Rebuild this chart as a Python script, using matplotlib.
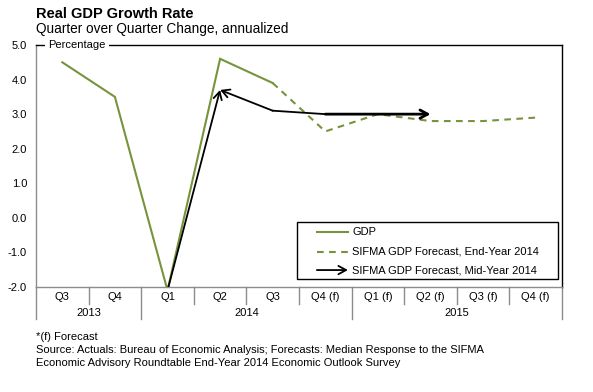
import matplotlib
matplotlib.use("Agg")
import matplotlib.pyplot as plt
from matplotlib.patches import Rectangle

plt.rcParams["font.family"] = ["Liberation Sans", "DejaVu Sans"]

# Data
quarters = ["Q3", "Q4", "Q1", "Q2", "Q3", "Q4 (f)", "Q1 (f)", "Q2 (f)", "Q3 (f)", "Q4 (f)"]
years = ["2013", "2014", "2015"]
year_counts = [2, 4, 4]
gdp_actual = [4.5, 3.5, -2.1, 4.6, 3.9]            # Q3 2013 .. Q3 2014
gdp_end_year = [3.9, 2.5, 3.0, 2.8, 2.8, 2.9]      # Q3 2014 .. Q4 2015
mid_year = [-2.1, 3.7, 3.1, 3.0, 3.0, 3.0]         # Q1 2014 .. Q2 2015
legend_labels = ["GDP", "SIFMA GDP Forecast, End-Year 2014", "SIFMA GDP Forecast, Mid-Year 2014"]

green = "#77933C"
grey = "#8C8C8C"

fig = plt.figure(figsize=(5.93, 3.92), dpi=100)
ax = fig.add_axes([36/593, 1-287/392, 526/593, 242/392])

x_act = list(range(len(gdp_actual)))
x_end = list(range(4, 4 + len(gdp_end_year)))
x_mid = list(range(2, 2 + len(mid_year)))

ax.plot(x_act, gdp_actual, color=green, lw=1.5, solid_joinstyle="miter")
ax.plot(x_end, gdp_end_year, color=green, lw=1.5, dashes=(3.2, 2.6))

# mid-year forecast drawn as arrows
def arrow(i, j, lw):
    a = ax.annotate("", xy=(x_mid[j], mid_year[j]), xytext=(x_mid[i], mid_year[i]),
                    arrowprops=dict(arrowstyle="->,head_length=0.55,head_width=0.3",
                                    color="black", lw=lw, shrinkA=0, shrinkB=0,
                                    mutation_scale=10))
    a.arrow_patch.set_clip_box(ax.bbox)
    a.arrow_patch.set_clip_on(True)

arrow(0, 1, 1.3)
arrow(2, 1, 1.3)
ax.plot(x_mid[2:4], mid_year[2:4], color="black", lw=1.3)
arrow(3, 5, 2.0)

ax.set_xlim(-0.5, len(quarters) - 0.5)
ax.set_ylim(-2.0, 5.0)
ax.set_yticks([-2, -1, 0, 1, 2, 3, 4, 5])
ax.set_yticklabels([f"{v:.1f}" for v in ax.get_yticks()], fontsize=8)
ax.tick_params(axis="y", length=0, pad=6.5)
ax.set_xticks([])

for s in ["top", "right"]:
    ax.spines[s].set_color("black")
    ax.spines[s].set_linewidth(1.0)
for s in ["left", "bottom"]:
    ax.spines[s].set_color(grey)
    ax.spines[s].set_linewidth(1.0)

ax.text(0.023, 1.0, "Percentage", transform=ax.transAxes, fontsize=8, va="center", ha="left",
        bbox=dict(fc="white", ec="none", pad=2.5))

# category table below the axis
tr = ax.get_xaxis_transform()
for i, q in enumerate(quarters):
    ax.text(i, -0.041, q, transform=tr, ha="center", va="center", fontsize=8)
bounds = [-0.5]
for c in year_counts:
    bounds.append(bounds[-1] + c)
for k in range(len(quarters) + 1):
    xb = k - 0.5
    low = -0.132 if xb in bounds else -0.07
    ax.plot([xb, xb], [0, low], transform=tr, color=grey, lw=1.0, clip_on=False)
for k, yr in enumerate(years):
    ax.text((bounds[k] + bounds[k+1]) / 2, -0.107, yr, transform=tr, ha="center", va="center", fontsize=8)

# legend drawn by hand
ta = ax.transAxes
ax.add_patch(Rectangle((0.496, 0.033), 0.496, 0.236, transform=ta, fill=True, fc="white",
                       ec="black", lw=1.0, zorder=5))
ys = [0.227, 0.145, 0.070]
ax.plot([0.534, 0.593], [ys[0]] * 2, transform=ta, color=green, lw=1.5, zorder=6)
ax.plot([0.534, 0.593], [ys[1]] * 2, transform=ta, color=green, lw=1.5, dashes=(3.2, 2.6), zorder=6)
ax.annotate("", xy=(0.593, ys[2]), xytext=(0.534, ys[2]), xycoords=ta, zorder=6,
            arrowprops=dict(arrowstyle="->,head_length=0.55,head_width=0.3", color="black",
                            lw=1.3, shrinkA=0, shrinkB=0, mutation_scale=10))
for yv, lab in zip(ys, legend_labels):
    ax.text(0.601, yv, lab, transform=ta, fontsize=8, va="center", ha="left", zorder=6)

# titles and notes
fig.text(36/593, 1-17.5/392, "Real GDP Growth Rate", fontsize=10.5, fontweight="bold", va="baseline")
fig.text(36/593, 1-33.5/392, "Quarter over Quarter Change, annualized", fontsize=9.8, va="baseline")
notes = ["*(f) Forecast",
         "Source: Actuals: Bureau of Economic Analysis; Forecasts: Median Response to the SIFMA",
         "Economic Advisory Roundtable End-Year 2014 Economic Outlook Survey"]
for k, n in enumerate(notes):
    fig.text(36/593, 1-(337+13*k)/392, n, fontsize=8, va="center")

fig.savefig("out.png", dpi=100)
